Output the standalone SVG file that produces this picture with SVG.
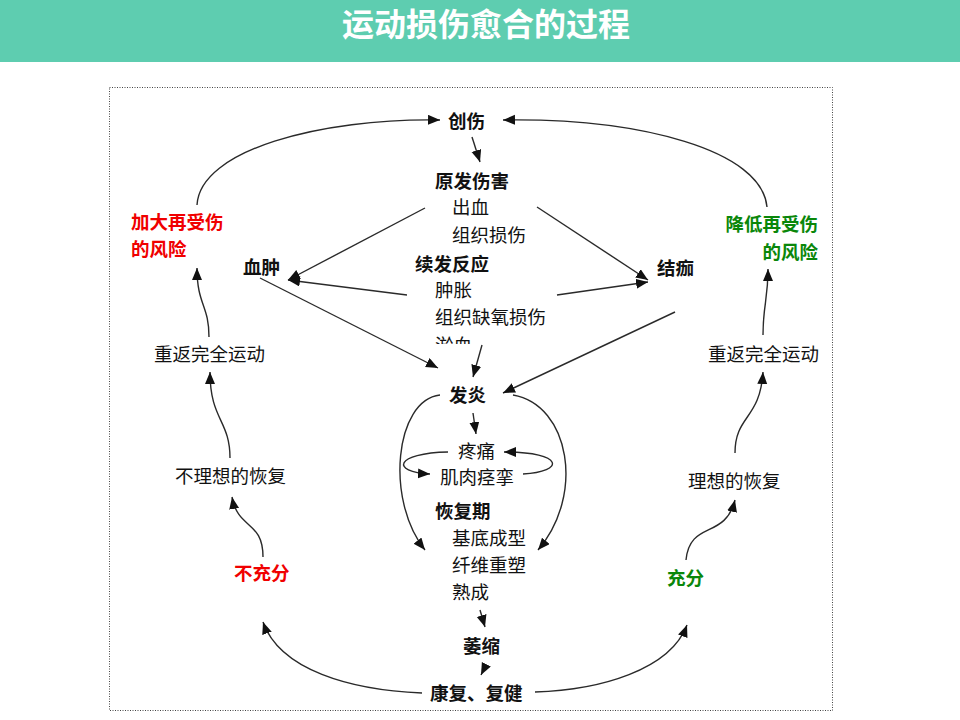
<svg xmlns="http://www.w3.org/2000/svg" width="960" height="720" viewBox="0 0 960 720">
<style>
.t{font-family:"Noto Sans CJK SC","Noto Sans",sans-serif;font-size:18.5px;fill:#111}
.b{font-weight:bold}
.red{fill:#f00000;font-weight:bold}
.grn{fill:#0a870a;font-weight:bold}
.c{fill:none;stroke:#2a2a2a;stroke-width:1.4}
</style>
<defs>
<marker id="ah" markerUnits="userSpaceOnUse" markerWidth="14" markerHeight="12" refX="12" refY="5" orient="auto">
<path d="M0,0 L12,5 L0,10 Z" fill="#111"/>
</marker>
<clipPath id="clipYu"><rect x="420" y="330" width="100" height="14"/></clipPath>
</defs>
<rect x="0" y="0" width="960" height="720" fill="#fff"/>
<rect x="0" y="0" width="960" height="62" fill="#5ecdb0"/>
<text x="486" y="36" text-anchor="middle" font-family="'Noto Sans CJK SC',sans-serif" font-size="32" font-weight="bold" fill="#fff">运动损伤愈合的过程</text>
<rect x="109.5" y="87.5" width="723" height="623" fill="none" stroke="#444" stroke-width="1" stroke-dasharray="1 1.5"/>

<g id="connectors">
<path class="c" marker-end="url(#ah)" d="M197,205 C200,150 320,118 440,120"/>
<path class="c" marker-end="url(#ah)" d="M767,207 C762,150 640,118 503,120"/>
<path class="c" marker-end="url(#ah)" d="M472,137 L480,162"/>
<path class="c" marker-end="url(#ah)" d="M425,208 L288,280"/>
<path class="c" marker-end="url(#ah)" d="M407,295 L288,280"/>
<path class="c" marker-end="url(#ah)" d="M537,207 L648,280"/>
<path class="c" marker-end="url(#ah)" d="M557,295 L648,282"/>
<path class="c" marker-end="url(#ah)" d="M260,278 L438,368"/>
<path class="c" marker-end="url(#ah)" d="M482,345 L473,377"/>
<path class="c" marker-end="url(#ah)" d="M675,312 L503,393"/>
<path class="c" marker-end="url(#ah)" d="M473,413 L476,434"/>
<path class="c" marker-end="url(#ah)" d="M440,395 C395,400 385,500 425,550"/>
<path class="c" marker-end="url(#ah)" d="M513,395 C570,405 585,495 538,550"/>
<path class="c" marker-end="url(#ah)" d="M448,452 C395,453 390,472 430,474"/>
<path class="c" marker-end="url(#ah)" d="M523,474 C565,472 565,452 504,452"/>
<path class="c" marker-end="url(#ah)" d="M480,610 L485,627"/>
<path class="c" marker-end="url(#ah)" d="M486,665 L481,675"/>
<path class="c" marker-end="url(#ah)" d="M422,693 C350,690 280,670 263,622"/>
<path class="c" marker-end="url(#ah)" d="M535,692 C600,690 670,670 687,625"/>
<path class="c" marker-end="url(#ah)" d="M263,557 C263,520 238,530 232,497"/>
<path class="c" marker-end="url(#ah)" d="M230,458 C230,420 210,420 210,372"/>
<path class="c" marker-end="url(#ah)" d="M209,337 C209,305 197,305 197,268"/>
<path class="c" marker-end="url(#ah)" d="M686,560 C690,520 725,540 735,500"/>
<path class="c" marker-end="url(#ah)" d="M735,453 C735,415 760,420 763,372"/>
<path class="c" marker-end="url(#ah)" d="M763,335 C763,305 768,300 768,269"/>
</g>

<g id="n-chuangshang"><text class="t b" x="448" y="128">创伤</text></g>
<g id="n-yuanfa">
<text class="t b" x="435" y="188">原发伤害</text>
<text class="t" x="452" y="214">出血</text>
<text class="t" x="452" y="242">组织损伤</text>
</g>
<g id="n-xufa">
<text class="t b" x="415" y="271">续发反应</text>
<text class="t" x="435" y="297">肿胀</text>
<text class="t" x="435" y="324">组织缺氧损伤</text>
<text class="t" x="435" y="352" clip-path="url(#clipYu)">淤血</text>
</g>
<g id="n-xuezhong"><text class="t b" x="243" y="274">血肿</text></g>
<g id="n-jiejia"><text class="t b" x="657" y="275">结痂</text></g>
<g id="n-fayan"><text class="t b" x="449" y="402">发炎</text></g>
<g id="n-tengtong"><text class="t" x="458" y="458">疼痛</text></g>
<g id="n-jirou"><text class="t" x="440" y="484">肌肉痉挛</text></g>
<g id="n-huifu">
<text class="t b" x="435" y="518">恢复期</text>
<text class="t" x="452" y="545">基底成型</text>
<text class="t" x="452" y="572">纤维重塑</text>
<text class="t" x="452" y="599">熟成</text>
</g>
<g id="n-weisuo"><text class="t b" x="463" y="653">萎缩</text></g>
<g id="n-kangfu"><text class="t b" x="430" y="700">康复、复健</text></g>
<g id="n-jiada">
<text class="t red" x="131" y="229">加大再受伤</text>
<text class="t red" x="131" y="256">的风险</text>
</g>
<g id="n-jiangdi">
<text class="t grn" x="818" y="231" text-anchor="end">降低再受伤</text>
<text class="t grn" x="818" y="259" text-anchor="end">的风险</text>
</g>
<g id="n-chongfan-l"><text class="t" x="154" y="361">重返完全运动</text></g>
<g id="n-chongfan-r"><text class="t" x="708" y="361">重返完全运动</text></g>
<g id="n-buli"><text class="t" x="175" y="483">不理想的恢复</text></g>
<g id="n-lixiang"><text class="t" x="688" y="488">理想的恢复</text></g>
<g id="n-buchong"><text class="t red" x="234" y="580">不充分</text></g>
<g id="n-chongfen"><text class="t grn" x="667" y="585">充分</text></g>
</svg>
